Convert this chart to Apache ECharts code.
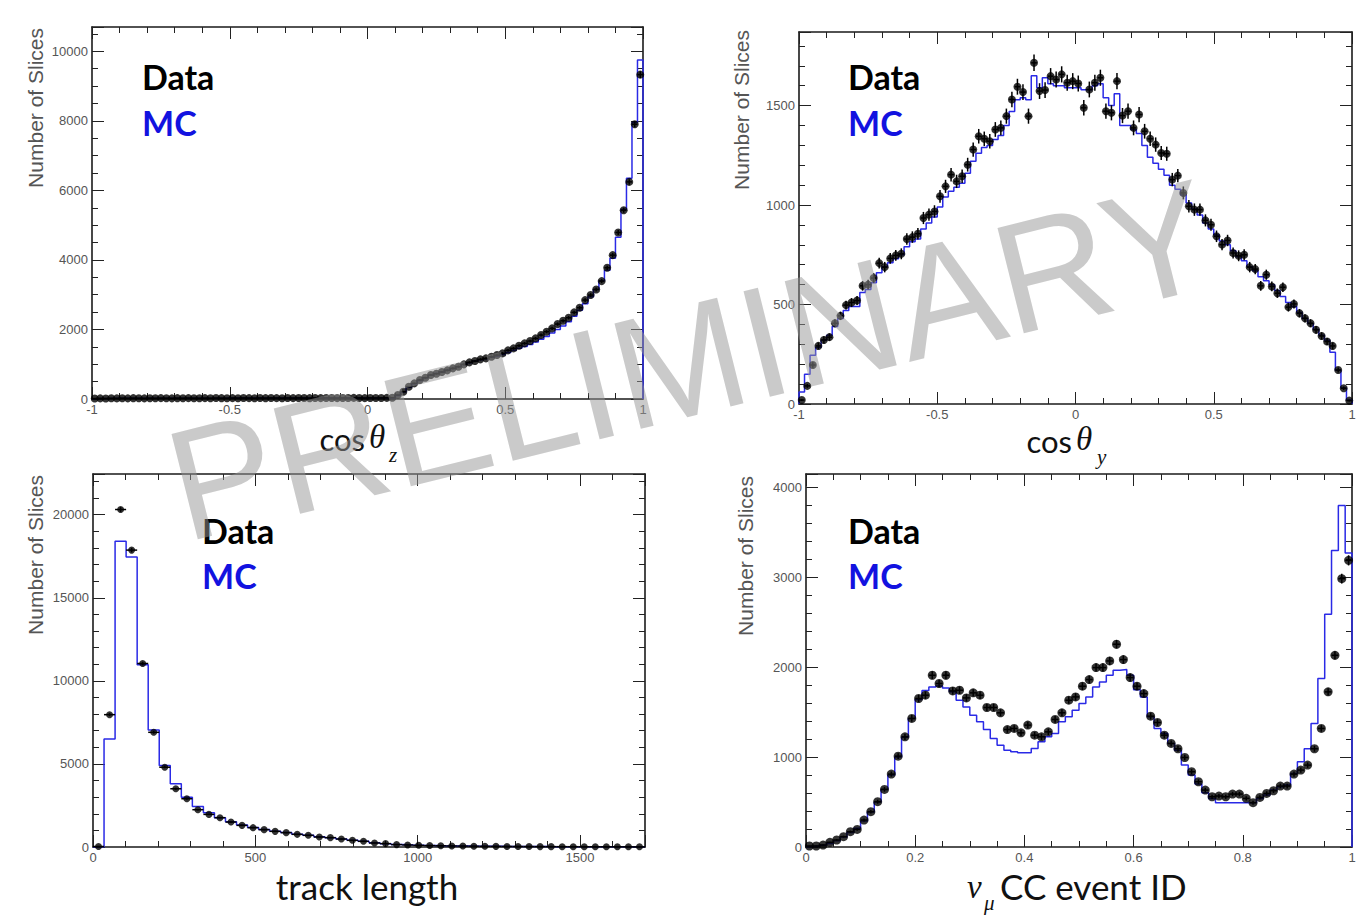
<!DOCTYPE html>
<html>
<head>
<meta charset="utf-8">
<script src="https://cdn.jsdelivr.net/npm/echarts@6/dist/echarts.min.js"></script>
<style>
html,body{margin:0;padding:0;background:#fff;}
#chart{width:1364px;height:918px;}
</style>
</head>
<body>
<div id="chart"></div>
<script>
// ---------------- DATA ----------------
// Panel 1: cos theta_z, 100 bins from -1 to 1
const cosZLo = -1, cosZBin = 0.02;
const cosZData = [12,18,15,20,17,22,19,24,21,18, 23,20,25,22,19,24,21,26,23,20, 25,22,27,24,21,26,23,28,25,22,
  27,24,29,26,23,28,25,30,27,24, 29,26,31,28,25,30,27,32,29,26, 31,28,30,33,
  38,115,210,354,450,546,613,690,728,776, 824,881,929,996,1054,1092,1140,1169,1216,1264,
  1312,1399,1456,1533,1600,1667,1743,1839,1935,2031, 2155,2250,2337,2491,2625,2845,2989,3151,3391,3774,
  4138,4789,5431,6245,7902,9330];
const cosZMC = [15,16,17,18,18,19,20,20,21,21, 22,22,22,23,23,23,24,24,24,24, 25,25,25,25,26,26,26,26,26,27,
  27,27,27,27,28,28,28,28,28,28, 29,29,29,29,29,29,30,30,30,30, 30,30,30,30,
  30,100,200,340,440,530,610,680,730,780, 830,880,930,990,1040,1090,1130,1160,1200,1240,
  1280,1340,1400,1460,1510,1570,1640,1720,1800,1900, 2000,2100,2220,2380,2550,2740,2940,3150,3400,3700,
  4050,4650,5450,6350,7950,9750];

// Panel 2: cos theta_y, 100 bins from -1 to 1
const cosYLo = -1, cosYBin = 0.02;
const cosYData = [20,91,196,292,322,336,406,443,497,510, 520,594,600,633,708,688,732,747,755,829,
  839,856,935,952,968,1044,1094,1153,1119,1145, 1203,1279,1346,1333,1321,1380,1388,1447,1531,1595,
  1568,1447,1715,1573,1578,1648,1631,1657,1615,1623,
  1611,1489,1581,1615,1640,1472,1464,1623,1450,1472, 1388,1455,1371,1333,1304,1262,1258,1128,1148,1061,
  994,977,977,923,901,843,801,822,759,745, 750,688,678,594,650,591,557,587,487,503,
  456,431,406,373,342,314,292,171,79,17];
const cosYMC = [60,150,245,285,320,345,390,430,470,490, 490,560,575,610,660,690,710,730,750,790,
  815,830,880,910,940,990,1040,1070,1090,1110, 1160,1220,1260,1290,1300,1330,1350,1400,1470,1530,
  1540,1530,1650,1590,1640,1610,1600,1600,1590,1590,
  1590,1580,1580,1600,1610,1540,1500,1560,1400,1400, 1380,1360,1300,1240,1210,1180,1150,1100,1080,1050,
  1010,980,950,910,880,850,820,800,770,740, 720,690,670,640,620,600,570,540,510,490,
  460,430,405,375,345,320,260,170,80,20];

// Panel 3: track length, 50 bins of 34 from 0 to 1700
const lenLo = 0, lenBin = 34;
const lenData = [30,7965,20312,17869,11045,6903,4802,3505,2905,2245, 1963,1765,1501,1302,1164,1044,942,864,762,702,
  600,564,480,402,342,240,204,144,120,100, 85,72,62,55,48,42,38,34,30,27, 24,22,20,18,16,15,13,12,11,10];
const lenMC = [0,6505,18409,17449,10966,7047,4904,3805,3001,2443, 2065,1765,1520,1320,1170,1050,950,870,770,700,
  610,560,480,400,340,250,200,150,120,100, 85,72,62,55,48,42,38,34,30,27, 24,22,20,18,16,15,13,12,11,10];

// Panel 4: numu CC event ID, 80 bins from 0 to 1
const cvnLo = 0, cvnBin = 0.0125;
const cvnData = [11,11,22,52,78,115,170,196,300,393, 504,641,811,1011,1226,1430,1652,1689,1911,1819,
  1911,1737,1744,1659,1715,1689,1552,1552,1493,1307, 1319,1270,1356,1244,1226,1281,1419,1493,
  1633,1670,1789,1863,1996,1996,2070,2256,2085,1885, 1789,1707,1456,1385,1244,1152,1093,996,837,726,
  633,559,567,559,589,589,541,493,552,596, 626,678,678,811,856,911,1093,1319,1726,2133,2985,3189];
const cvnMC = [5,10,20,40,70,110,160,210,290,390, 500,640,800,1000,1220,1430,1640,1740,1780,1790,
  1770,1726,1633,1559,1467,1393,1307,1207,1133,1077, 1059,1050,1050,1096,1170,1226,1263,1393,1448,1522,
  1596,1670,1781,1837,1911,1967,1974,1911,1750,1670, 1448,1319,1263,1152,1077,911,800,700,604,540,
  493,493,493,493,493,493,541,578,633,670, 689,819,948,1093,1374,1874,2589,3300,3800,3270];

// Axis ranges / tick steps
const cosZX = {min:-1, max:1, interval:0.5, minor:5, showMax:true};
const cosZY = {min:0, max:10700, interval:2000, minor:4, showMax:false};
const cosYX = {min:-1, max:1, interval:0.5, minor:5, showMax:true};
const cosYY = {min:0, max:1870, interval:500, minor:5, showMax:false};
const lenX = {min:0, max:1700, interval:500, minor:5, showMax:false};
const lenY = {min:0, max:22450, interval:5000, minor:5, showMax:false};
const cvnX = {min:0, max:1, interval:0.2, minor:4, showMax:true};
const cvnY = {min:0, max:4150, interval:1000, minor:5, showMax:false};

// ---------------- HELPERS ----------------
function centers(lo, w, vals){ return vals.map((v,i)=>[lo + w*(i+0.5), v]); }
function stepPts(lo, w, vals){
  const pts = [[lo, 0]];
  vals.forEach((v,i)=>pts.push([lo + w*i, v]));
  pts.push([lo + w*vals.length, vals[vals.length-1]]);
  pts.push([lo + w*vals.length, 0]);
  return pts;
}
const fmt = v => String(+(+v).toFixed(6));
function errBar(w){
  return function(params, api){
    const x = api.value(0), v = api.value(1), e = Math.sqrt(Math.max(v,0));
    const a = api.coord([x - w/2, v]), b = api.coord([x + w/2, v]);
    const c = api.coord([x, v - e]), d = api.coord([x, v + e]);
    return {type:'group', children:[
      {type:'line', shape:{x1:a[0],y1:a[1],x2:b[0],y2:b[1]}, style:{stroke:'#000', lineWidth:1.5}},
      {type:'line', shape:{x1:c[0],y1:c[1],x2:d[0],y2:d[1]}, style:{stroke:'#000', lineWidth:1.5}}
    ]};
  };
}

const panels = [
  {grid:{left:92, top:27, width:551, height:372}, lo:cosZLo, w:cosZBin, data:cosZData, mc:cosZMC, x:cosZX, y:cosZY, size:8},
  {grid:{left:799, top:32, width:553, height:372}, lo:cosYLo, w:cosYBin, data:cosYData, mc:cosYMC, x:cosYX, y:cosYY, size:8},
  {grid:{left:93, top:474, width:552, height:373}, lo:lenLo, w:lenBin, data:lenData, mc:lenMC, x:lenX, y:lenY, size:7},
  {grid:{left:806, top:474, width:546, height:373}, lo:cvnLo, w:cvnBin, data:cvnData, mc:cvnMC, x:cvnX, y:cvnY, size:9}
];

const grids = [], xAxes = [], yAxes = [], series = [];
function axis(a, gi, position, showLabel){
  return {
    type:'value', gridIndex:gi, position:position, min:a.min, max:a.max, interval:a.interval,
    axisLine:{show:true, onZero:false, lineStyle:{color:'#1a1a1a', width:1.6}},
    axisTick:{show:true, inside:true, length:12, lineStyle:{color:'#222', width:1}},
    minorTick:{show:true, splitNumber:a.minor, length:6, lineStyle:{color:'#222', width:1}},
    splitLine:{show:false}, minorSplitLine:{show:false},
    axisLabel:{show:showLabel, color:'#555', fontSize:13, fontFamily:'Liberation Sans', margin:4,
      formatter:fmt, showMinLabel:true, showMaxLabel:a.showMax, hideOverlap:false}
  };
}
panels.forEach((p, i) => {
  grids.push(Object.assign({show:false, containLabel:false}, p.grid));
  const xi = xAxes.length, yi = yAxes.length;
  xAxes.push(axis(p.x, i, 'bottom', true));
  xAxes.push(axis(p.x, i, 'top', false));
  yAxes.push(axis(p.y, i, 'left', true));
  yAxes.push(axis(p.y, i, 'right', false));
  series.push({type:'line', name:'MC', xAxisIndex:xi, yAxisIndex:yi, data:stepPts(p.lo, p.w, p.mc),
    step:'end', symbol:'none', showSymbol:false, lineStyle:{color:'#2a2ae6', width:1.5}, silent:true, z:2});
  series.push({type:'custom', name:'Data err', xAxisIndex:xi, yAxisIndex:yi, data:centers(p.lo, p.w, p.data),
    encode:{x:0, y:1}, renderItem:errBar(p.w), silent:true, z:3});
  series.push({type:'scatter', name:'Data', xAxisIndex:xi, yAxisIndex:yi, data:centers(p.lo, p.w, p.data),
    symbol:'circle', symbolSize:p.size, itemStyle:{color:'#000'}, silent:true, z:4});
});

function txt(x, y, text, o){
  return {type:'text', x:x, y:y, rotation:o.rot || 0, silent:true, z:o.z || 50,
    style:Object.assign({text:text, fill:o.fill || '#000', fontSize:o.size, fontFamily:o.family || 'Lato',
      fontWeight:o.weight || 'normal', fontStyle:o.style || 'normal',
      align:o.align || 'left', textAlign:o.align || 'left', verticalAlign:'middle', textVerticalAlign:'middle'}, o.extra || {})};
}
const legendFont = {size:34, weight:'bold'};
const blue = '#1212e0';
const ytitle = {size:21, family:'Liberation Sans', fill:'#555', rot:Math.PI/2, align:'right'};
const xt = {size:31, fill:'#111'};
const xtBig = {size:35, fill:'#111'};
const th = {size:33, family:'Liberation Serif', style:'italic', fill:'#111'};
const sub = {size:21, family:'Liberation Serif', style:'italic', fill:'#111'};

const graphics = [
  // legends
  txt(142, 76, 'Data', Object.assign({}, legendFont)),
  txt(142, 122, 'MC', Object.assign({fill:blue}, legendFont)),
  txt(848, 76, 'Data', Object.assign({}, legendFont)),
  txt(848, 122, 'MC', Object.assign({fill:blue}, legendFont)),
  txt(202, 530, 'Data', Object.assign({}, legendFont)),
  txt(202, 575, 'MC', Object.assign({fill:blue}, legendFont)),
  txt(848, 530, 'Data', Object.assign({}, legendFont)),
  txt(848, 575, 'MC', Object.assign({fill:blue}, legendFont)),
  // y titles
  txt(35, 28, 'Number of Slices', ytitle),
  txt(741, 30, 'Number of Slices', ytitle),
  txt(35, 475, 'Number of Slices', ytitle),
  txt(745, 476, 'Number of Slices', ytitle),
  // x titles
  txt(365, 439, 'cos', Object.assign({align:'right'}, xt)),
  txt(369, 437, 'θ', th),
  txt(389, 455, 'z', sub),
  txt(1072, 441, 'cos', Object.assign({align:'right'}, xt)),
  txt(1076, 439, 'θ', th),
  txt(1097, 457, 'y', sub),
  txt(367, 886, 'track length', Object.assign({align:'center'}, xtBig)),
  txt(967, 887, 'ν', th),
  txt(984, 903, 'μ', sub),
  txt(1000, 886, 'CC event ID', xtBig),
  // watermark
  txt(690, 360, 'PRELIMINARY', {size:158, family:'Liberation Sans', fill:'rgba(150,150,150,0.5)',
    rot:14*Math.PI/180, align:'center', z:100})
];

const chart = echarts.init(document.getElementById('chart'), null, {renderer:'svg', width:1364, height:918});
chart.setOption({
  animation:false,
  backgroundColor:'#fff',
  textStyle:{fontFamily:'Liberation Sans'},
  grid:grids, xAxis:xAxes, yAxis:yAxes, series:series,
  graphic:{elements:graphics}
});
</script>
</body>
</html>
